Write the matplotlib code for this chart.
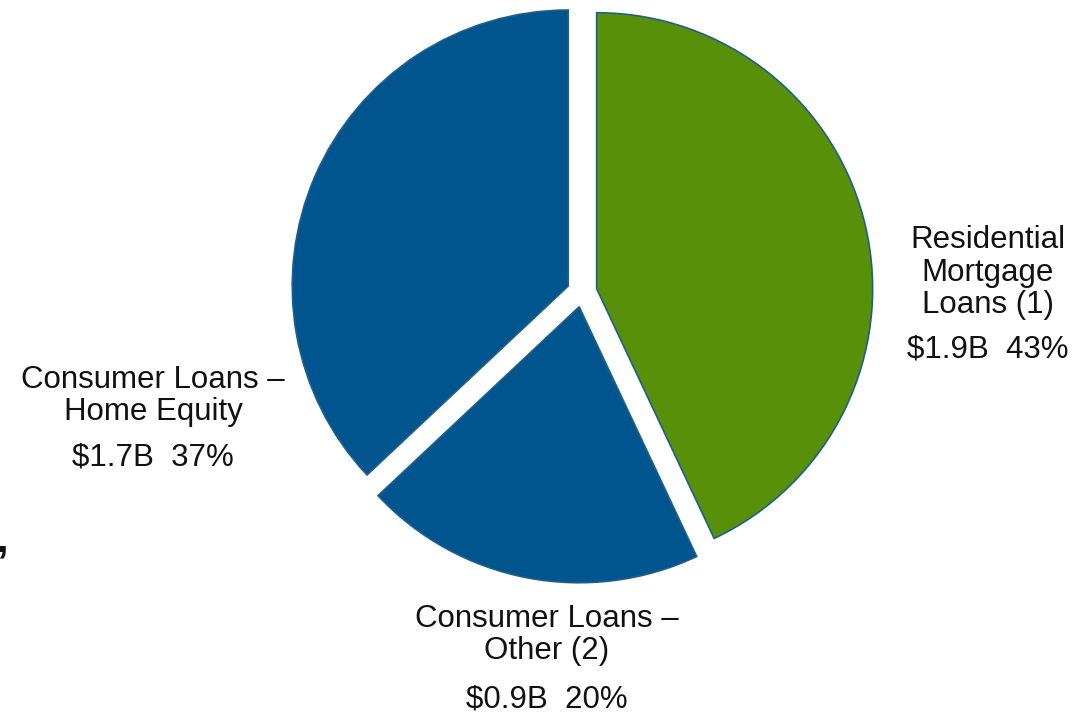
import matplotlib
matplotlib.use("Agg")
from matplotlib import pyplot as plt

plt.rcParams['font.family'] = ['Liberation Sans', 'DejaVu Sans']

# loan portfolio mix, clockwise from 12 o'clock
segments = ['Residential\nMortgage\nLoans (1)', 'Consumer Loans \u2013\nOther (2)', 'Consumer Loans \u2013\nHome Equity']
amounts = ['$1.9B', '$0.9B', '$1.7B']
shares = [43, 20, 37]
colors = ['#58900a', '#00558f', '#00558f']

W, H = 1087, 715
fig = plt.figure(figsize=(W / 100, H / 100), dpi=100)
ax = fig.add_axes([0, 0, 1, 1])
ax.set_xlim(0, W)
ax.set_ylim(0, H)
ax.set_aspect('equal')
ax.axis('off')

# pie drawn in pixel units, so explode is an offset in pixels too
cx, cy, r = 582, H - 292, 276
wedges, _ = ax.pie(shares, colors=colors, startangle=90, counterclock=False,
                   explode=[15] * 3, center=(cx, cy), radius=r,
                   wedgeprops=dict(edgecolor='#1f5f8a', linewidth=1.2))
ax.set_xlim(0, W)
ax.set_ylim(0, H)

# label anchors (centre x, baseline of last name line, baseline of value line)
lab_pos = [(988, H - 313, H - 358), (547, H - 659, H - 708), (153, H - 420, H - 465)]
for name, amt, pct, (x, y, yv) in zip(segments, amounts, shares, lab_pos):
    ax.text(x, y, name, ha='center', va='baseline', fontsize=22.5,
            linespacing=1.1, color='#111111')
    ax.text(x, yv, '%s  %d%%' % (amt, pct), ha='center', va='baseline',
            fontsize=22.5, color='#111111')

ax.text(8, H - 552, ',', ha='right', va='baseline', fontsize=30,
        fontweight='bold', color='#111111')

fig.savefig('out.png', dpi=100)
